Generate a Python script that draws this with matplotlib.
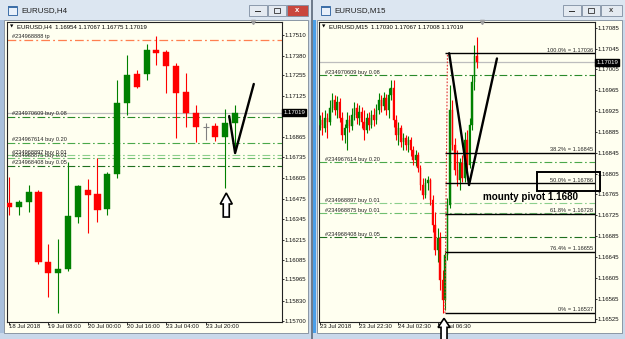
import matplotlib
matplotlib.use("Agg")
import matplotlib.pyplot as plt
from matplotlib.patches import Rectangle, Polygon
from matplotlib.transforms import IdentityTransform

plt.rcParams['font.family'] = ['Liberation Sans', 'DejaVu Sans']

W, H = 625, 339

# ---------------- EURUSD H4 (left window) ----------------
h4_open = [1.16447, 1.16421, 1.16453, 1.16516, 1.16073, 1.16004, 1.16029, 1.16358,
           1.16529, 1.16504, 1.16409, 1.16630, 1.17080, 1.17263, 1.17263, 1.17415,
           1.17402, 1.17314, 1.17149, 1.17016, 1.16928, 1.16934, 1.16864, 1.16954]
h4_high = [1.16611, 1.16466, 1.16561, 1.16529, 1.16187, 1.16219, 1.16706, 1.16561,
           1.16599, 1.16732, 1.16643, 1.17225, 1.17383, 1.17288, 1.17453, 1.17504,
           1.17415, 1.17333, 1.17269, 1.17067, 1.16953, 1.16953, 1.17042, 1.17067]
h4_low = [1.16371, 1.16371, 1.16390, 1.16061, 1.15852, 1.15751, 1.16016, 1.16320,
          1.16257, 1.16326, 1.16371, 1.16605, 1.17004, 1.17175, 1.17225, 1.17320,
          1.17143, 1.16858, 1.16928, 1.16833, 1.16845, 1.16839, 1.16542, 1.16775]
h4_close = [1.16421, 1.16453, 1.16516, 1.16073, 1.16004, 1.16029, 1.16364, 1.16554,
            1.16497, 1.16402, 1.16630, 1.17080, 1.17257, 1.17181, 1.17415, 1.17396,
            1.17314, 1.17143, 1.17016, 1.16928, 1.16928, 1.16864, 1.16953, 1.17019]
h4_date_bars = [0, 4, 8, 12, 16, 20]
h4_dates = ['18 Jul 2018', '19 Jul 08:00', '20 Jul 00:00', '20 Jul 16:00',
            '23 Jul 04:00', '23 Jul 20:00']
h4_yticks = [1.17510, 1.17380, 1.17255, 1.17125, 1.16865, 1.16735, 1.16605,
             1.16475, 1.16345, 1.16215, 1.16085, 1.15965, 1.15830, 1.15700]
h4_header = 'EURUSD,H4  1.16954 1.17067 1.16775 1.17019'
h4_tp = 1.17478
h4_vline_bars = [22.4, 23.0, 24.9]
h4_vline_prices = [1.16997, 1.16763, 1.17200]

# ---------------- EURUSD M15 (right window) ----------------
m15_open = [1.16898, 1.16907, 1.16892, 1.16911, 1.16904, 1.16930, 1.16946, 1.16927, 1.16942, 1.16911,
            1.16879, 1.16892, 1.16907, 1.16896, 1.16917, 1.16930, 1.16911, 1.16923, 1.16904, 1.16888,
            1.16911, 1.16898, 1.16917, 1.16907, 1.16927, 1.16946, 1.16934, 1.16950, 1.16927, 1.16955,
            1.16969, 1.16907, 1.16879, 1.16892, 1.16865, 1.16873, 1.16859, 1.16869, 1.16850, 1.16831,
            1.16840, 1.16815, 1.16783, 1.16763, 1.16786, 1.16792, 1.16754, 1.16706, 1.16658, 1.16681,
            1.16600, 1.16562, 1.16648, 1.16744, 1.16927, 1.16859, 1.16811, 1.16792, 1.16825, 1.16796,
            1.16869, 1.16821, 1.16898, 1.16980, 1.17030]
m15_high = [1.16917, 1.16923, 1.16927, 1.16921, 1.16946, 1.16959, 1.16955, 1.16953, 1.16950, 1.16923,
            1.16900, 1.16923, 1.16917, 1.16930, 1.16942, 1.16940, 1.16936, 1.16932, 1.16927, 1.16921,
            1.16923, 1.16927, 1.16930, 1.16938, 1.16959, 1.16955, 1.16961, 1.16957, 1.16969, 1.16984,
            1.16984, 1.16917, 1.16904, 1.16898, 1.16882, 1.16880, 1.16877, 1.16875, 1.16857, 1.16850,
            1.16846, 1.16821, 1.16796, 1.16796, 1.16800, 1.16796, 1.16763, 1.16731, 1.16700, 1.16692,
            1.16619, 1.16658, 1.16758, 1.16975, 1.16946, 1.16873, 1.16850, 1.16834, 1.16840, 1.16884,
            1.16888, 1.16911, 1.16994, 1.17051, 1.17067]
m15_low = [1.16888, 1.16879, 1.16884, 1.16873, 1.16898, 1.16923, 1.16917, 1.16911, 1.16904, 1.16869,
           1.16863, 1.16850, 1.16884, 1.16888, 1.16907, 1.16900, 1.16898, 1.16892, 1.16869, 1.16882,
           1.16888, 1.16892, 1.16896, 1.16900, 1.16919, 1.16923, 1.16927, 1.16917, 1.16911, 1.16946,
           1.16894, 1.16869, 1.16859, 1.16856, 1.16850, 1.16850, 1.16846, 1.16838, 1.16821, 1.16819,
           1.16808, 1.16773, 1.16756, 1.16758, 1.16773, 1.16744, 1.16692, 1.16648, 1.16635, 1.16581,
           1.16537, 1.16543, 1.16639, 1.16738, 1.16850, 1.16802, 1.16781, 1.16773, 1.16788, 1.16788,
           1.16811, 1.16815, 1.16888, 1.16965, 1.17008]
m15_close = [1.16907, 1.16892, 1.16911, 1.16904, 1.16930, 1.16946, 1.16927, 1.16942, 1.16911, 1.16879,
             1.16892, 1.16907, 1.16896, 1.16917, 1.16930, 1.16911, 1.16923, 1.16904, 1.16888, 1.16911,
             1.16898, 1.16917, 1.16907, 1.16927, 1.16946, 1.16934, 1.16950, 1.16927, 1.16955, 1.16969,
             1.16907, 1.16879, 1.16892, 1.16865, 1.16873, 1.16859, 1.16869, 1.16850, 1.16831, 1.16840,
             1.16815, 1.16783, 1.16763, 1.16786, 1.16792, 1.16754, 1.16706, 1.16658, 1.16681, 1.16600,
             1.16562, 1.16648, 1.16744, 1.16927, 1.16859, 1.16811, 1.16792, 1.16825, 1.16796, 1.16869,
             1.16821, 1.16898, 1.16980, 1.17030, 1.17019]
m15_date_bars = [0, 16, 32, 48]
m15_dates = ['23 Jul 2018', '23 Jul 22:30', '24 Jul 02:30', '24 Jul 06:30']
m15_yticks = [1.17085, 1.17045, 1.17005, 1.16965, 1.16925, 1.16885, 1.16845, 1.16805,
              1.16765, 1.16725, 1.16685, 1.16645, 1.16605, 1.16565, 1.16525]
m15_header = 'EURUSD,M15  1.17030 1.17067 1.17008 1.17019'
fib_labels = ['100.0%', '38.2%', '50.0%', '61.8%', '76.4%', '0%']
fib_prices = [1.17036, 1.16845, 1.16786, 1.16728, 1.16655, 1.16537]
fib_start_bar = 51
m15_vline_bars = [52.7, 60.8, 72.2]
m15_vline_prices = [1.17036, 1.16783, 1.17026]
pivot_text = 'mounty pivot 1.1680'

# ---------------- shared ----------------
bid = 1.17019
order_ids = ['#234970609 buy 0.08', '#234967614 buy 0.20', '#234968897 buy 0.01',
             '#234968875 buy 0.01', '#234968408 buy 0.05']
order_prices = [1.16994, 1.16827, 1.16748, 1.16729, 1.16683]
order_colors = ['#2a8a2a', '#4aa84a', '#8ccf8c', '#6fbf6f', '#1f6f1f']

BG = '#fffff0'
UP, DOWN, DOJI = '#008000', '#ff0000', '#808080'

fig = plt.figure(figsize=(W / 100, H / 100), dpi=100)
fig.patch.set_facecolor('#c6d5e7')


def px_rect(x0, y0, x1, y1, fc, ec='none', lw=0.0, z=-5):
    fig.add_artist(Rectangle((x0 / W, 1 - y1 / H), (x1 - x0) / W, (y1 - y0) / H,
                             transform=fig.transFigure, fc=fc, ec=ec, lw=lw, zorder=z))


def window(x0, x1, title, close_red):
    px_rect(x0, 0, x1, H, '#c9d8ea')
    px_rect(x0, 0, x1, 20, '#dce6f1')
    px_rect(x0 + 4, 20, x1 - 3, 333, BG, ec='#7d8a99', lw=0.6)
    # icon
    px_rect(x0 + 8, 6, x0 + 17, 15, '#e8f0fa', ec='#3d6fa8', lw=0.7, z=-4)
    px_rect(x0 + 8, 6, x0 + 17, 8, '#3d6fa8', z=-4)
    fig.text((x0 + 21) / W, 1 - 11 / H, title, fontsize=5.8, va='center', ha='left',
             color='#1e1e1e')
    bx = [x1 - 62, x1 - 43, x1 - 24]
    for k, b in enumerate(bx):
        red = close_red and k == 2
        px_rect(b, 5, b + 18 if k < 2 else b + 21, 16, '#c9463d' if red else '#e4eaf1',
                ec='#7e8ea2', lw=0.6, z=-4)
    cx = bx[2] + 10.5
    fig.text(cx / W, 1 - 10.7 / H, 'x', fontsize=5.5, ha='center', va='center',
             color='white' if close_red else '#444', fontweight='bold')
    px_rect(bx[0] + 6, 11, bx[0] + 12, 12.3, '#333', z=-3)
    px_rect(bx[1] + 6, 8, bx[1] + 12, 13, 'none', ec='#333', lw=0.6, z=-3)


window(0, 311, 'EURUSD,H4', True)
window(313, 625, 'EURUSD,M15', False)
px_rect(0, 20, 4, 333, '#a9c0dc', z=-4)
px_rect(313, 20, 316, 333, '#4a9fe8', z=-4)
px_rect(311, 0, 313, H, '#6f7c8c', z=-4)


def draw_candles(ax, o, h, l, c, width):
    for i in range(len(o)):
        if c[i] > o[i]:
            col = UP
        elif c[i] < o[i]:
            col = DOWN
        else:
            col = DOJI
        ax.vlines(i, l[i], h[i], color=col, lw=0.8, zorder=3)
        if col == DOJI:
            ax.hlines(o[i], i - width / 2, i + width / 2, color=col, lw=0.8, zorder=3)
        else:
            ax.add_patch(Rectangle((i - width / 2, min(o[i], c[i])), width, abs(c[i] - o[i]),
                                   fc=col, ec=col, lw=0.3, zorder=3))


def style_axes(ax, yticks, date_bars, dates, xlim, ylim, header):
    ax.set_facecolor(BG)
    ax.set_xlim(*xlim)
    ax.set_ylim(*ylim)
    ax.yaxis.tick_right()
    ax.set_yticks(yticks)
    ax.set_yticklabels(['%.5f' % v for v in yticks])
    ax.set_xticks(date_bars)
    ax.set_xticklabels(dates, ha='left')
    ax.tick_params(axis='y', length=1.6, width=0.6, pad=0.4, labelsize=4.3, colors='#111')
    ax.tick_params(axis='x', length=2.2, width=0.6, pad=-0.8, labelsize=4.3, colors='#111')
    for s in ax.spines.values():
        s.set_linewidth(0.8)
        s.set_color('#222')
    ax.text(0.012, 0.99, '\u25bc', transform=ax.transAxes, fontsize=3.2, va='top', ha='left',
            family=['DejaVu Sans'])
    ax.text(0.036, 0.993, header, transform=ax.transAxes, fontsize=4.3, va='top', ha='left')
    ax.axhline(bid, color='#bdbdbd', lw=0.9, zorder=1)
    ax.text(1.004, bid, '%.5f' % bid, transform=ax.get_yaxis_transform(), fontsize=4.3,
            color='white', va='center', ha='left', zorder=6,
            bbox=dict(boxstyle='square,pad=0.18', fc='black', ec='black'))


def order_lines(ax, xfrac):
    for name, p, col in zip(order_ids, order_prices, order_colors):
        ax.axhline(p, color=col, lw=0.8, ls=(0, (7, 2.5, 1.5, 2.5)), zorder=2)
        ax.annotate(name, xy=(xfrac, p), xycoords=('axes fraction', 'data'),
                    xytext=(0, 0.4), textcoords='offset points', fontsize=4.1,
                    va='bottom', ha='left', color='#222', zorder=4)


def hollow_arrow(ax, bar, price, head, half, shaft, length):
    tx, ty = ax.transData.transform((bar, price))
    pts = [(tx, ty), (tx + half, ty - head), (tx + shaft, ty - head), (tx + shaft, ty - length),
           (tx - shaft, ty - length), (tx - shaft, ty - head), (tx - half, ty - head)]
    fig.add_artist(Polygon(pts, closed=True, transform=IdentityTransform(), fc='white',
                           ec='black', lw=1.2, zorder=10, clip_on=False))


# ----- left chart -----
ax1 = fig.add_axes([7 / W, 1 - 322 / H, 275 / W, 300 / H])
style_axes(ax1, h4_yticks, h4_date_bars, h4_dates, (-0.2, 27.77), (1.15694, 1.17592), h4_header)
ax1.axhline(h4_tp, color='#ff7f50', lw=0.9, ls=(0, (7, 2.5, 1.5, 2.5)), zorder=2)
ax1.annotate('#234968888 tp', xy=(0.018, h4_tp), xycoords=('axes fraction', 'data'),
             xytext=(0, 0.4), textcoords='offset points', fontsize=4.1, va='bottom',
             ha='left', color='#222', zorder=4)
order_lines(ax1, 0.018)
draw_candles(ax1, h4_open, h4_high, h4_low, h4_close, 0.62)
ax1.plot(h4_vline_bars, h4_vline_prices, color='black', lw=1.7, zorder=5,
         solid_capstyle='round')

# ----- right chart -----
ax2 = fig.add_axes([319 / W, 1 - 322 / H, 276 / W, 300 / H])
style_axes(ax2, m15_yticks, m15_date_bars, m15_dates, (-0.41, 112.2), (1.16520, 1.17096),
           m15_header)
order_lines(ax2, 0.022)
draw_candles(ax2, m15_open, m15_high, m15_low, m15_close, 0.6)
xr = ax2.get_xlim()[1]
for lab, p in zip(fib_labels, fib_prices):
    ax2.hlines(p, fib_start_bar, xr, color='black', lw=1.0, zorder=4)
    ax2.annotate('%s = %.5f' % (lab, p), xy=(0.993, p), xycoords=('axes fraction', 'data'),
                 xytext=(0, 0.5), textcoords='offset points', fontsize=4.1, va='bottom',
                 ha='right', color='#222', zorder=4)
ax2.plot([fib_start_bar, fib_start_bar + 1], [fib_prices[-1], fib_prices[0]], color='#e03030',
         lw=0.8, ls=(0, (1.5, 1.5)), zorder=4)
ax2.plot(m15_vline_bars, m15_vline_prices, color='black', lw=1.7, zorder=5,
         solid_capstyle='round')
ax2.add_patch(Rectangle((88.6, 1.16771), 25.7, 0.00037, fc='none', ec='black', lw=1.4,
                        zorder=6, clip_on=False))
ax2.text(85.7, 1.16760, pivot_text, fontsize=7.1, fontweight='bold', ha='center',
         va='center', zorder=6)

# chart shift markers
for ax, frac in ((ax1, 0.895), (ax2, 0.592)):
    ax.plot([frac], [1.0], marker='v', ms=3, color='#a0a0a0', transform=ax.transAxes,
            clip_on=False, zorder=7)

hollow_arrow(ax1, 22.1, 1.16510, 11, 6, 3, 24)
hollow_arrow(ax2, 50.6, 1.16527, 9, 6, 3, 23)

fig.savefig('out.png', dpi=100, facecolor=fig.get_facecolor())
